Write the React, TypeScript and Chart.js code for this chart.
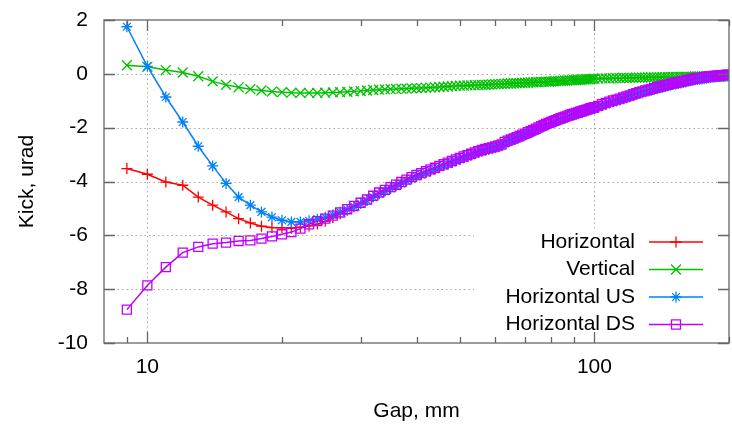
import React, { useEffect, useRef } from "react";
import { Chart, registerables } from "chart.js";
Chart.register(...registerables);

// Gap values, mm
const gaps = [
  9, 10, 11, 12, 13, 14, 15, 16, 17, 18, 19, 20, 21, 22, 23, 24, 25, 26, 27, 28, 29, 30,
  31, 32, 33, 34, 35, 36, 37, 38, 39,
  40, 41, 42, 43, 44, 45, 46, 47, 48, 49,
  50, 51, 52, 53, 54, 55, 56, 57, 58, 59,
  60, 61, 62, 63, 64, 65, 66, 67, 68, 69,
  70, 71, 72, 73, 74, 75, 76, 77, 78, 79,
  80, 81, 82, 83, 84, 85, 86, 87, 88, 89,
  90, 91, 92, 93, 94, 95, 96, 97, 98, 99,
  100,
  102, 104, 106, 108, 110, 112, 114, 116, 118, 120,
  122, 124, 126, 128, 130, 132, 134, 136, 138, 140,
  142, 144, 146, 148, 150, 152, 154, 156, 158, 160,
  162, 164, 166, 168, 170, 172, 174, 176, 178, 180,
  182, 184, 186, 188, 190, 192, 194, 196, 198, 200,
];

const horizontal = [
  -3.52, -3.73, -4.02, -4.14, -4.58, -4.88, -5.13, -5.38, -5.54, -5.66, -5.71, -5.72, -5.74, -5.70, -5.65, -5.58, -5.48, -5.35, -5.21, -5.07, -4.94, -4.81,
  -4.69, -4.56, -4.44, -4.33, -4.23, -4.14, -4.04, -3.95, -3.86,
  -3.78, -3.71, -3.64, -3.57, -3.51, -3.44, -3.38, -3.32, -3.26, -3.20,
  -3.14, -3.09, -3.04, -2.99, -2.94, -2.89, -2.85, -2.81, -2.78, -2.75,
  -2.72, -2.68, -2.64, -2.55, -2.50, -2.46, -2.42, -2.37, -2.33, -2.28,
  -2.24, -2.19, -2.15, -2.10, -2.06, -2.01, -1.96, -1.92, -1.88, -1.84,
  -1.81, -1.77, -1.74, -1.70, -1.67, -1.64, -1.61, -1.58, -1.55, -1.52,
  -1.50, -1.47, -1.45, -1.42, -1.40, -1.37, -1.35, -1.32, -1.30, -1.28,
  -1.26,
  -1.21, -1.15, -1.10, -1.05, -1.01, -0.98, -0.94, -0.90, -0.86, -0.82,
  -0.78, -0.74, -0.70, -0.67, -0.64, -0.61, -0.58, -0.55, -0.52, -0.49,
  -0.47, -0.44, -0.42, -0.39, -0.37, -0.35, -0.33, -0.31, -0.29, -0.27,
  -0.25, -0.23, -0.21, -0.19, -0.18, -0.17, -0.16, -0.15, -0.13, -0.12,
  -0.11, -0.10, -0.10, -0.09, -0.08, -0.07, -0.07, -0.06, -0.05, -0.05,
];

const vertical = [
  0.32, 0.26, 0.14, 0.05, -0.09, -0.28, -0.41, -0.50, -0.57, -0.62, -0.66, -0.68, -0.70, -0.71, -0.71, -0.71, -0.70, -0.69, -0.68, -0.67, -0.65, -0.64,
  -0.62, -0.60, -0.59, -0.58, -0.57, -0.56, -0.55, -0.55, -0.54,
  -0.53, -0.53, -0.52, -0.51, -0.50, -0.49, -0.48, -0.47, -0.46, -0.45,
  -0.44, -0.44, -0.43, -0.43, -0.42, -0.42, -0.41, -0.41, -0.40, -0.39,
  -0.38, -0.38, -0.37, -0.37, -0.36, -0.36, -0.35, -0.35, -0.34, -0.34,
  -0.33, -0.33, -0.32, -0.32, -0.31, -0.31, -0.30, -0.30, -0.29, -0.29,
  -0.28, -0.28, -0.27, -0.27, -0.26, -0.26, -0.25, -0.25, -0.24, -0.24,
  -0.23, -0.23, -0.22, -0.22, -0.21, -0.21, -0.20, -0.20, -0.19, -0.19,
  -0.18,
  -0.18, -0.17, -0.17, -0.17, -0.16, -0.16, -0.16, -0.15, -0.15, -0.15,
  -0.15, -0.14, -0.14, -0.14, -0.14, -0.13, -0.13, -0.13, -0.13, -0.13,
  -0.12, -0.12, -0.12, -0.12, -0.12, -0.12, -0.11, -0.11, -0.11, -0.11,
  -0.11, -0.11, -0.11, -0.10, -0.10, -0.10, -0.10, -0.10, -0.10, -0.10,
  -0.10, -0.09, -0.09, -0.09, -0.09, -0.09, -0.09, -0.09, -0.09, -0.09,
];

const horizontalUS = [
  1.75, 0.28, -0.86, -1.79, -2.69, -3.42, -4.07, -4.58, -4.88, -5.13, -5.32, -5.44, -5.50, -5.50, -5.46, -5.40, -5.33, -5.24, -5.14, -5.04, -4.93, -4.82,
  -4.71, -4.58, -4.46, -4.36, -4.26, -4.17, -4.07, -3.98, -3.89,
  -3.81, -3.74, -3.67, -3.60, -3.54, -3.47, -3.41, -3.35, -3.29, -3.23,
  -3.17, -3.12, -3.07, -3.02, -2.97, -2.92, -2.88, -2.84, -2.81, -2.78,
  -2.75, -2.71, -2.67, -2.58, -2.53, -2.49, -2.45, -2.40, -2.36, -2.31,
  -2.27, -2.22, -2.18, -2.13, -2.09, -2.04, -1.99, -1.95, -1.91, -1.87,
  -1.84, -1.80, -1.77, -1.73, -1.70, -1.67, -1.64, -1.61, -1.58, -1.55,
  -1.53, -1.50, -1.48, -1.45, -1.43, -1.40, -1.38, -1.35, -1.33, -1.31,
  -1.29,
  -1.24, -1.18, -1.13, -1.08, -1.04, -1.01, -0.97, -0.93, -0.89, -0.85,
  -0.81, -0.77, -0.73, -0.70, -0.67, -0.64, -0.61, -0.58, -0.55, -0.52,
  -0.50, -0.47, -0.45, -0.42, -0.40, -0.38, -0.36, -0.34, -0.32, -0.30,
  -0.28, -0.26, -0.24, -0.22, -0.21, -0.20, -0.19, -0.18, -0.16, -0.15,
  -0.14, -0.13, -0.12, -0.11, -0.10, -0.09, -0.09, -0.08, -0.07, -0.07,
];

const horizontalDS = [
  -8.76, -7.86, -7.18, -6.64, -6.43, -6.31, -6.27, -6.21, -6.19, -6.12, -6.04, -5.96, -5.88, -5.75, -5.59, -5.47, -5.38, -5.27, -5.15, -5.03, -4.91, -4.79,
  -4.67, -4.53, -4.41, -4.31, -4.21, -4.12, -4.02, -3.93, -3.84,
  -3.76, -3.69, -3.62, -3.55, -3.49, -3.42, -3.36, -3.30, -3.24, -3.18,
  -3.12, -3.07, -3.02, -2.97, -2.92, -2.87, -2.83, -2.79, -2.76, -2.73,
  -2.70, -2.66, -2.62, -2.53, -2.48, -2.44, -2.40, -2.35, -2.31, -2.26,
  -2.22, -2.17, -2.13, -2.08, -2.04, -1.99, -1.94, -1.90, -1.86, -1.82,
  -1.79, -1.75, -1.72, -1.68, -1.65, -1.62, -1.59, -1.56, -1.53, -1.50,
  -1.48, -1.45, -1.43, -1.40, -1.38, -1.35, -1.33, -1.30, -1.28, -1.26,
  -1.24,
  -1.19, -1.13, -1.08, -1.03, -0.99, -0.96, -0.92, -0.88, -0.84, -0.80,
  -0.76, -0.72, -0.68, -0.65, -0.62, -0.59, -0.56, -0.53, -0.50, -0.47,
  -0.45, -0.42, -0.40, -0.37, -0.35, -0.33, -0.31, -0.29, -0.27, -0.25,
  -0.23, -0.21, -0.19, -0.17, -0.16, -0.15, -0.14, -0.13, -0.11, -0.10,
  -0.09, -0.08, -0.08, -0.07, -0.06, -0.05, -0.05, -0.04, -0.03, -0.03,
];

const xLabelTicks = [10, 100];
const xMinorTicks = [9, 20, 30, 40, 50, 60, 70, 80, 90, 200];
const yTicks = [-10, -8, -6, -4, -2, 0, 2];
const yGrid = [-8, -6, -4, -2, 0];

const FONT = "'Liberation Sans', Arial, sans-serif";

type Series = { label: string; values: number[]; color: string; style: string; radius: number; order: number };
const series: Series[] = [
  { label: "Horizontal", values: horizontal, color: "#ff0000", style: "cross", radius: 5.5, order: 4 },
  { label: "Vertical", values: vertical, color: "#00c000", style: "crossRot", radius: 7, order: 3 },
  { label: "Horizontal US", values: horizontalUS, color: "#0080ff", style: "star", radius: 5.5, order: 2 },
  { label: "Horizontal DS", values: horizontalDS, color: "#c000ff", style: "rect", radius: 6.4, order: 1 },
];

function drawMarker(ctx: CanvasRenderingContext2D, style: string, x: number, y: number, r: number) {
  ctx.beginPath();
  if (style === "cross" || style === "star") {
    ctx.moveTo(x - r, y); ctx.lineTo(x + r, y);
    ctx.moveTo(x, y - r); ctx.lineTo(x, y + r);
  }
  if (style === "crossRot" || style === "star") {
    const d = r * Math.SQRT1_2;
    ctx.moveTo(x - d, y - d); ctx.lineTo(x + d, y + d);
    ctx.moveTo(x - d, y + d); ctx.lineTo(x + d, y - d);
  }
  if (style === "rect") {
    const s = r * Math.SQRT1_2;
    ctx.rect(x - s, y - s, 2 * s, 2 * s);
  }
  ctx.stroke();
}

const framePlugin = {
  id: "frame",
  beforeDatasetsDraw(chart: any) {
    const { ctx, chartArea: a, scales } = chart;
    const xs = scales.x, ys = scales.y;
    ctx.save();
    ctx.strokeStyle = "#a8a8a8";
    ctx.lineWidth = 1;
    ctx.setLineDash([1.5, 3]);
    ctx.beginPath();
    for (const v of xLabelTicks) {
      const px = Math.round(xs.getPixelForValue(v)) + 0.5;
      ctx.moveTo(px, a.top); ctx.lineTo(px, a.bottom);
    }
    for (const v of yGrid) {
      const py = Math.round(ys.getPixelForValue(v)) + 0.5;
      ctx.moveTo(a.left, py); ctx.lineTo(a.right, py);
    }
    ctx.stroke();
    ctx.setLineDash([]);
    // key area is kept clear of grid
    ctx.fillStyle = "#ffffff";
    ctx.fillRect(a.right - 255, a.bottom - 115, 255, 115);
    ctx.restore();
  },
  afterDatasetsDraw(chart: any) {
    const { ctx, chartArea: a, scales } = chart;
    const xs = scales.x, ys = scales.y;
    ctx.save();
    ctx.strokeStyle = "#666666";
    ctx.lineWidth = 1.3;
    ctx.beginPath();
    const major = 11, minor = 6;
    for (const v of xLabelTicks) {
      const px = Math.round(xs.getPixelForValue(v)) + 0.5;
      ctx.moveTo(px, a.bottom); ctx.lineTo(px, a.bottom - major);
      ctx.moveTo(px, a.top); ctx.lineTo(px, a.top + major);
    }
    for (const v of xMinorTicks) {
      const px = Math.round(xs.getPixelForValue(v)) + 0.5;
      ctx.moveTo(px, a.bottom); ctx.lineTo(px, a.bottom - minor);
      ctx.moveTo(px, a.top); ctx.lineTo(px, a.top + minor);
    }
    for (const v of yTicks) {
      const py = Math.round(ys.getPixelForValue(v)) + 0.5;
      ctx.moveTo(a.left, py); ctx.lineTo(a.left + major, py);
      ctx.moveTo(a.right, py); ctx.lineTo(a.right - major, py);
    }
    ctx.stroke();
    ctx.strokeRect(a.left, a.top, a.right - a.left, a.bottom - a.top);

    // key
    ctx.font = `21px ${FONT}`;
    ctx.textAlign = "right";
    ctx.textBaseline = "middle";
    series.forEach((s, i) => {
      const y = a.bottom - 101 + i * 27.5;
      ctx.fillStyle = "#000";
      ctx.fillText(s.label, a.right - 94, y);
      ctx.strokeStyle = s.color;
      ctx.lineWidth = 1.5;
      ctx.beginPath();
      ctx.moveTo(a.right - 80, y); ctx.lineTo(a.right - 26, y);
      ctx.stroke();
      ctx.lineWidth = 1.3;
      drawMarker(ctx, s.style, a.right - 53, y, s.radius);
    });
    ctx.restore();
  },
};

export default function App() {
  const ref = useRef<HTMLCanvasElement>(null);
  useEffect(() => {
    const chart = new Chart(ref.current as HTMLCanvasElement, {
      type: "line",
      data: {
        datasets: series.map((s) => ({
          label: s.label,
          data: gaps.map((g, i) => ({ x: g, y: s.values[i] })),
          borderColor: s.color,
          backgroundColor: "rgba(0,0,0,0)",
          borderWidth: 1.5,
          pointStyle: s.style as any,
          pointRadius: s.radius,
          pointBorderWidth: 1.3,
          pointBorderColor: s.color,
          pointBackgroundColor: "rgba(0,0,0,0)",
          tension: 0,
          order: s.order,
        })),
      },
      options: {
        animation: false,
        responsive: false,
        events: [],
        layout: { autoPadding: false, padding: { left: 0, right: 3, top: 20, bottom: 0 } },
        plugins: { legend: { display: false }, tooltip: { enabled: false } },
        scales: {
          x: {
            type: "logarithmic",
            position: "bottom",
            min: 8,
            max: 200,
            grid: { display: false, drawTicks: false },
            border: { display: false },
            afterBuildTicks: (s: any) => {
              s.ticks = xLabelTicks.map((v) => ({ value: v }));
            },
            afterFit: (s: any) => {
              s.height = 81;
              s.paddingLeft = 0;
              s.paddingRight = 0;
            },
            ticks: {
              autoSkip: false,
              maxRotation: 0,
              padding: 12,
              color: "#000",
              font: { family: FONT, size: 21 },
              callback: (v: any) => String(v),
            },
            title: {
              display: true,
              text: "Gap, mm",
              color: "#000",
              font: { family: FONT, size: 21 },
              padding: { top: 0, bottom: 0 },
            },
          },
          y: {
            type: "linear",
            min: -10,
            max: 2,
            grid: { display: false, drawTicks: false },
            border: { display: false },
            afterBuildTicks: (s: any) => {
              s.ticks = yTicks.map((v) => ({ value: v }));
            },
            afterFit: (s: any) => {
              s.width = 104;
              s.paddingTop = 0;
              s.paddingBottom = 0;
            },
            ticks: {
              padding: 16,
              color: "#000",
              font: { family: FONT, size: 21 },
              callback: (v: any) => String(v),
            },
            title: {
              display: true,
              text: "Kick, urad",
              color: "#000",
              font: { family: FONT, size: 21 },
              padding: { top: 15, bottom: 0 },
            },
          },
        },
      },
      plugins: [framePlugin],
    });
    return () => chart.destroy();
  }, []);
  return (
    <div style={{ position: "fixed", left: 0, top: 0, width: 732, height: 424, background: "#fff" }}>
      <canvas ref={ref} width={732} height={424} style={{ display: "block", width: 732, height: 424 }} />
    </div>
  );
}
